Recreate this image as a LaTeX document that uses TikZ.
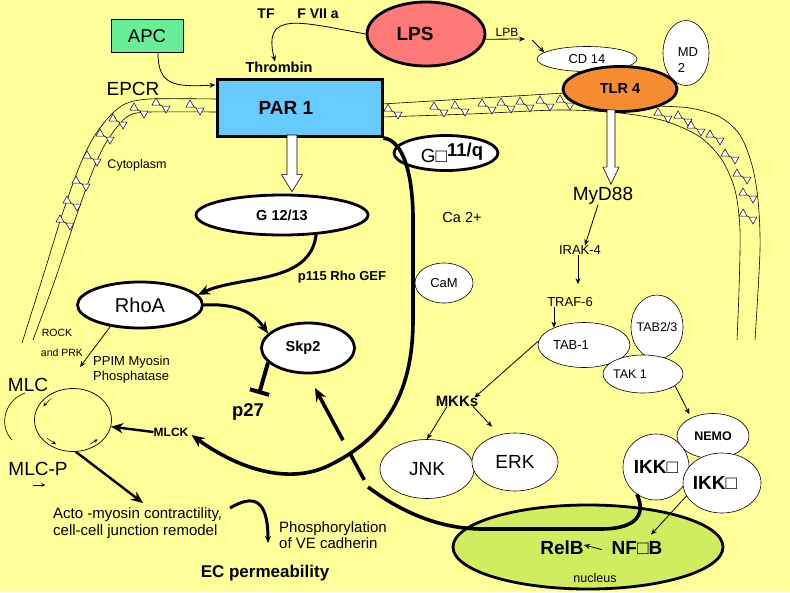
\documentclass[tikz,border=0pt]{standalone}
\usepackage{fontspec}
\setmainfont{Liberation Sans}
\usetikzlibrary{arrows.meta,shapes.geometric,calc}

\definecolor{cellbg}{RGB}{255,255,153}
\definecolor{nucleusgreen}{RGB}{210,236,96}
\definecolor{lpsred}{RGB}{255,120,120}
\definecolor{tlrorange}{RGB}{246,140,48}
\definecolor{parblue}{RGB}{102,204,255}
\definecolor{apcgreen}{RGB}{102,238,153}

\newcommand{\fsz}[2]{\fontsize{#1}{#2}\selectfont}
\newcommand{\nb}{□}
\newcommand{\fatarrow}[4]{%
  \draw[line width=0.6pt, fill=white] let \p1=(#1), \p2=(#2) in
    (\x2-#3pt,\y1+3pt) -- (\x2-#3pt,\y2+17pt) -- (\x2-#4pt,\y2+17pt) -- (\x2,\y2)
    -- (\x2+#4pt,\y2+17pt) -- (\x2+#3pt,\y2+17pt) -- (\x2+#3pt,\y1+3pt) -- cycle;}

\tikzset{
  lipid/.pic={
    \draw[fill=white, line width=0.5pt] (-9,1) -- (-1,1) -- (-5,-6) -- cycle;
    \draw[fill=white, line width=0.5pt] (1,2) -- (9,2) -- (5,9) -- cycle;
    \draw[line width=0.5pt] (-1,1) -- (1,2);
  }
}

\begin{document}
\begin{tikzpicture}[x=1pt, y=-1pt,
  every node/.style={inner sep=0pt},
  thinbub/.style={ellipse, draw, fill=white, line width=0.6pt},
  thickbub/.style={ellipse, draw, fill=white, line width=2.8pt},
  thin arr/.style={line width=0.8pt, -{Stealth[length=6pt,width=5pt]}},
  thick arr/.style={line width=3pt, -{Stealth[length=12pt,width=10pt]}},
  bigcurve/.style={line width=3.6pt},
  membrane/.style={line width=0.6pt}
]
\fill[cellbg] (0,0) rectangle (790,592);
\useasboundingbox (0,0) rectangle (790,592);

\draw[membrane] plot[smooth] coordinates {(217,99) (150,99) (125,104) (108,118) (92,140) (78,170) (62,215) (45,270) (22,343)};
\draw[membrane] plot[smooth] coordinates {(217,112) (150,112) (130,115) (117,127) (103,148) (90,178) (75,220) (55,280) (33,340)};
\draw[membrane] (382,104) -- (565,93);
\draw[membrane] plot[smooth] coordinates {(382,117) (470,114) (560,110) (620,113) (665,121) (700,137) (722,160) (735,190) (740,230) (739,290) (737,340)};
\draw[membrane] plot[smooth] coordinates {(655,106) (690,108) (720,117) (740,135) (752,165) (758,200) (760,250) (755,340)};
\foreach \x/\y in {195/106, 161/104, 139/109, 118/120, 105/135, 92/157, 81/182, 72/202, 65/221,
                   393/110, 439/108, 460/107, 487/105, 506/104, 525/103, 545/102, 565/101,
                   663/114, 683/117, 696/127, 715/136, 730/155, 742/175, 748/194, 748/215}
  \pic at (\x,\y) {lipid};

\node[draw, fill=apcgreen, line width=0.8pt, minimum width=72pt, minimum height=33pt, font=\fsz{18.5}{20}] (apc) at (147,36) {APC};
\node[font=\fsz{14}{16}\bfseries] (tf) at (266,14) {TF};
\node[font=\fsz{14}{16}\bfseries] (f7a) at (318,14) {F VII a};
\node[font=\fsz{14.5}{16}\bfseries] (thrombin) at (279,67) {Thrombin};
\node[font=\fsz{19}{21}] (epcr) at (133,89) {EPCR};
\node[draw, fill=parblue, line width=3pt, minimum width=165pt, minimum height=57pt, font=\fsz{19}{21}\bfseries] (par) at (299.5,108) {PAR 1\hspace*{27pt}};
\node[thickbub, fill=lpsred, minimum width=118pt, minimum height=64pt, font=\fsz{19}{21}\bfseries] (lps) at (426,34) {LPS\hspace*{22pt}};
\node[font=\fsz{12}{14}] (lpb) at (507,32) {LPB};
\node[thinbub, minimum width=100pt, minimum height=25pt, font=\fsz{13}{15}] (cd14) at (587,59) {CD 14};
\node[thinbub, minimum width=46pt, minimum height=65pt] (md2) at (686,53) {};
\node[align=left, font=\fsz{13}{16}] (md2txt) at (688,60) {MD\\2};
\node[thickbub, fill=tlrorange, minimum width=114pt, minimum height=45pt, font=\fsz{14.5}{16}\bfseries] (tlr) at (620,89) {TLR 4};
\node[thickbub, minimum width=104pt, minimum height=35pt] (gq) at (446,153) {\makebox[0pt]{\hspace*{12pt}\fsz{19}{21}G\nb\raisebox{6pt}{\fsz{18.5}{20}\bfseries 11/q}}};
\node[thickbub, minimum width=172pt, minimum height=40pt, font=\fsz{14.5}{16}\bfseries] (g1213) at (282,215) {G 12/13};
\node[font=\fsz{14.5}{16}] (ca) at (462,218) {Ca 2+};
\node[thinbub, minimum width=58pt, minimum height=40pt, font=\fsz{13}{15}] (cam) at (444,283) {CaM};
\node[font=\fsz{19}{21}] (myd) at (603,196) {MyD88};
\node[font=\fsz{13}{15}] (irak) at (580,250) {IRAK-4};
\node[font=\fsz{13}{15}] (traf) at (570,302) {TRAF-6};
\node[thinbub, minimum width=92pt, minimum height=45pt, font=\fsz{13}{15}] (tab1) at (584,345) {\makebox[0pt]{TAB-1\hspace*{26pt}}};
\node[thinbub, minimum width=52pt, minimum height=64pt, font=\fsz{12.5}{15}] (tab23) at (657,327) {\makebox[0pt]{TAB2/3}};
\node[thinbub, minimum width=80pt, minimum height=38pt, font=\fsz{12.5}{15}] (tak1) at (643,374) {\makebox[0pt]{TAK 1\hspace*{26pt}}};
\node[font=\fsz{15}{17}\bfseries] (mkks) at (457,401) {MKKs};
\node[thinbub, minimum width=94pt, minimum height=59pt, font=\fsz{19}{21}] (jnk) at (427,469) {JNK};
\node[thinbub, minimum width=86pt, minimum height=58pt, font=\fsz{19}{21}] (erk) at (515,462) {ERK};
\node[thickbub, fill=nucleusgreen, minimum width=270pt, minimum height=84pt] (nucleus) at (588,547) {};
\node[font=\fsz{19}{21}\bfseries] (relb) at (562,548) {RelB};
\node[font=\fsz{19}{21}\bfseries] (nfkb) at (637,548) {NF\nb B};
\node[font=\fsz{12.5}{14}] (nuctxt) at (595,578) {nucleus};
\node[thinbub, minimum width=72pt, minimum height=45pt, font=\fsz{12.5}{14}\bfseries] (nemo) at (713,436) {NEMO};
\node[thinbub, minimum width=66pt, minimum height=66pt, font=\fsz{19}{21}\bfseries] (ikka) at (656,467) {\makebox[0pt]{IKK\nb}};
\node[thinbub, minimum width=78pt, minimum height=60pt, font=\fsz{19}{21}\bfseries] (ikkb) at (722,483) {\makebox[0pt]{IKK\nb\hspace*{14pt}}};
\node[thickbub, minimum width=93pt, minimum height=50pt, font=\fsz{14.5}{16}\bfseries] (skp2) at (308,348) {Skp2\hspace*{10pt}};
\node[font=\fsz{18.5}{20}\bfseries] (p27) at (248,412) {p27};
\node[thickbub, minimum width=125pt, minimum height=46pt, font=\fsz{20}{22}] (rhoa) at (140,305) {RhoA};
\node[font=\fsz{13}{15}\bfseries] (gef) at (342,277) {p115 Rho GEF};
\node[font=\fsz{12.5}{14}] (cyto) at (137,165) {Cytoplasm};
\node[font=\fsz{10.5}{12}] (rock) at (57,333) {ROCK};
\node[font=\fsz{10.5}{12}] (prk) at (62,353) {and PRK};
\node[anchor=west, align=left, font=\fsz{13}{15}] (ppim) at (93,370) {PPIM Myosin\\Phosphatase};
\node[font=\fsz{19}{21}] (mlc) at (28,385) {MLC};
\node[font=\fsz{19}{21}] (mlcp) at (38,469) {MLC-P};
\node[draw, ellipse, line width=0.7pt, minimum width=77pt, minimum height=63pt] (cycle) at (73,420) {};
\node[font=\fsz{12}{14}\bfseries] (mlck) at (171,432) {MLCK};
\node[anchor=north west, align=left, font=\fsz{15}{17}] (acto) at (53,507) {Acto -myosin contractility,\\cell-cell junction remodel};
\node[anchor=north west, align=left, font=\fsz{15}{16.5}] (phos) at (279,521) {Phosphorylation\\of VE cadherin};
\node[font=\fsz{17}{19}\bfseries] (ecp) at (265,573) {EC permeability};

\coordinate (lpbtip) at (525,39);
\coordinate (lpbtail) at (532,40);
\coordinate (loopend) at (368,487);
\coordinate (skptip) at (315,388);
\coordinate (bartip) at (259,394);

\fatarrow{par.south}{$(g1213.north)+(10,-2)$}{5}{10.5}
\fatarrow{tlr.south}{$(myd.north)+(8,-3)$}{4}{8}

\draw[thin arr] (lps.west) .. controls (300,22) and (262,10) .. ([xshift=-4pt]thrombin.north);
\draw[thin arr] ([xshift=11pt]apc.south) .. controls (158,86) and (175,87) .. ([yshift=-7pt]par.north west);
\draw[thin arr] (lps.355) -- (lpbtip);
\draw[thin arr] (lpbtail) -- (cd14.171);
\draw[bigcurve, -{Stealth[length=13pt,width=11pt]}] (par.south east) .. controls (400,140) and (412,165) .. (413,215) -- (413,320) .. controls (413,400) and (380,440) .. (330,465) .. controls (290,485) and (240,470) .. ([xshift=3pt,yshift=-3pt]mlck.east);
\draw[bigcurve] (ikka.235) .. controls (645,512) and (640,529) .. (600,529) -- (480,529) .. controls (430,528) and (392,505) .. (loopend);
\draw[bigcurve, dash pattern=on 0pt off 8pt on 31pt off 14pt on 80pt, -{Stealth[length=13pt,width=11pt]}] (loopend) -- (skptip);
\draw[thick arr] (g1213.330) .. controls (310,285) and (240,275) .. (rhoa.10);
\draw[thick arr] (rhoa.east) .. controls (240,303) and (255,315) .. (skp2.160);
\draw[line width=4pt, -{Bar[width=20pt]}] (skp2.200) -- (bartip);
\draw[thin arr] (rhoa.216) -- ($(ppim.west)+(-13,-3)$);
\draw[thick arr, line width=2.4pt] (mlck.west) -- (cycle.350);
\draw[thick arr, line width=2.4pt] (cycle.275) -- ($(acto.north west)+(90,-4)$);
\draw[line width=3pt, -{Stealth[length=7pt,width=6pt]}] ($(acto.north west)+(177,1)$) .. controls (252,495) and (268,497) .. ($(phos.north west)+(-11,22)$);
\foreach \a/\b in {135/155, 215/235, 305/322}
  \draw[line width=0.5pt, -{Stealth[length=4pt,width=3.5pt]}] ($(cycle.\a)!0.12!(cycle.center)$) -- ($(cycle.\b)!0.12!(cycle.center)$);
\draw[line width=0.6pt] (25,393) .. controls (5,400) and (-2,425) .. (12,440);
\draw[line width=0.8pt, -{Stealth[length=4pt,width=4pt]}] ($(mlcp.south west)+(25,9)$) -- ++(12,0);
\draw[thin arr] ([xshift=-5pt]myd.south) -- ([xshift=5pt]irak.north);
\draw[thin arr, shorten >=13pt] ([xshift=-2pt]irak.south) -- ([xshift=8pt]traf.north);
\draw[thin arr] (tab1.150 |- traf.south) -- (tab1.150);
\draw[thin arr] (tab1.175) -- ([xshift=-4pt,yshift=-2pt]mkks.north east);
\draw[thin arr] ([xshift=-10pt]mkks.south) -- (jnk.north);
\draw[thin arr] ([xshift=16pt]mkks.south) -- ($(erk.north)+(-23,-6)$);
\draw[thin arr, shorten >=4pt] (tak1.340) -- (nemo.140);
\draw[thin arr, shorten >=9pt] (ikkb.200) -- ([xshift=8pt]nfkb.north);
\draw[thin arr, shorten <=10pt] ([yshift=-4pt]nfkb.west) -- ([yshift=3pt]relb.east);
\end{tikzpicture}
\end{document}
